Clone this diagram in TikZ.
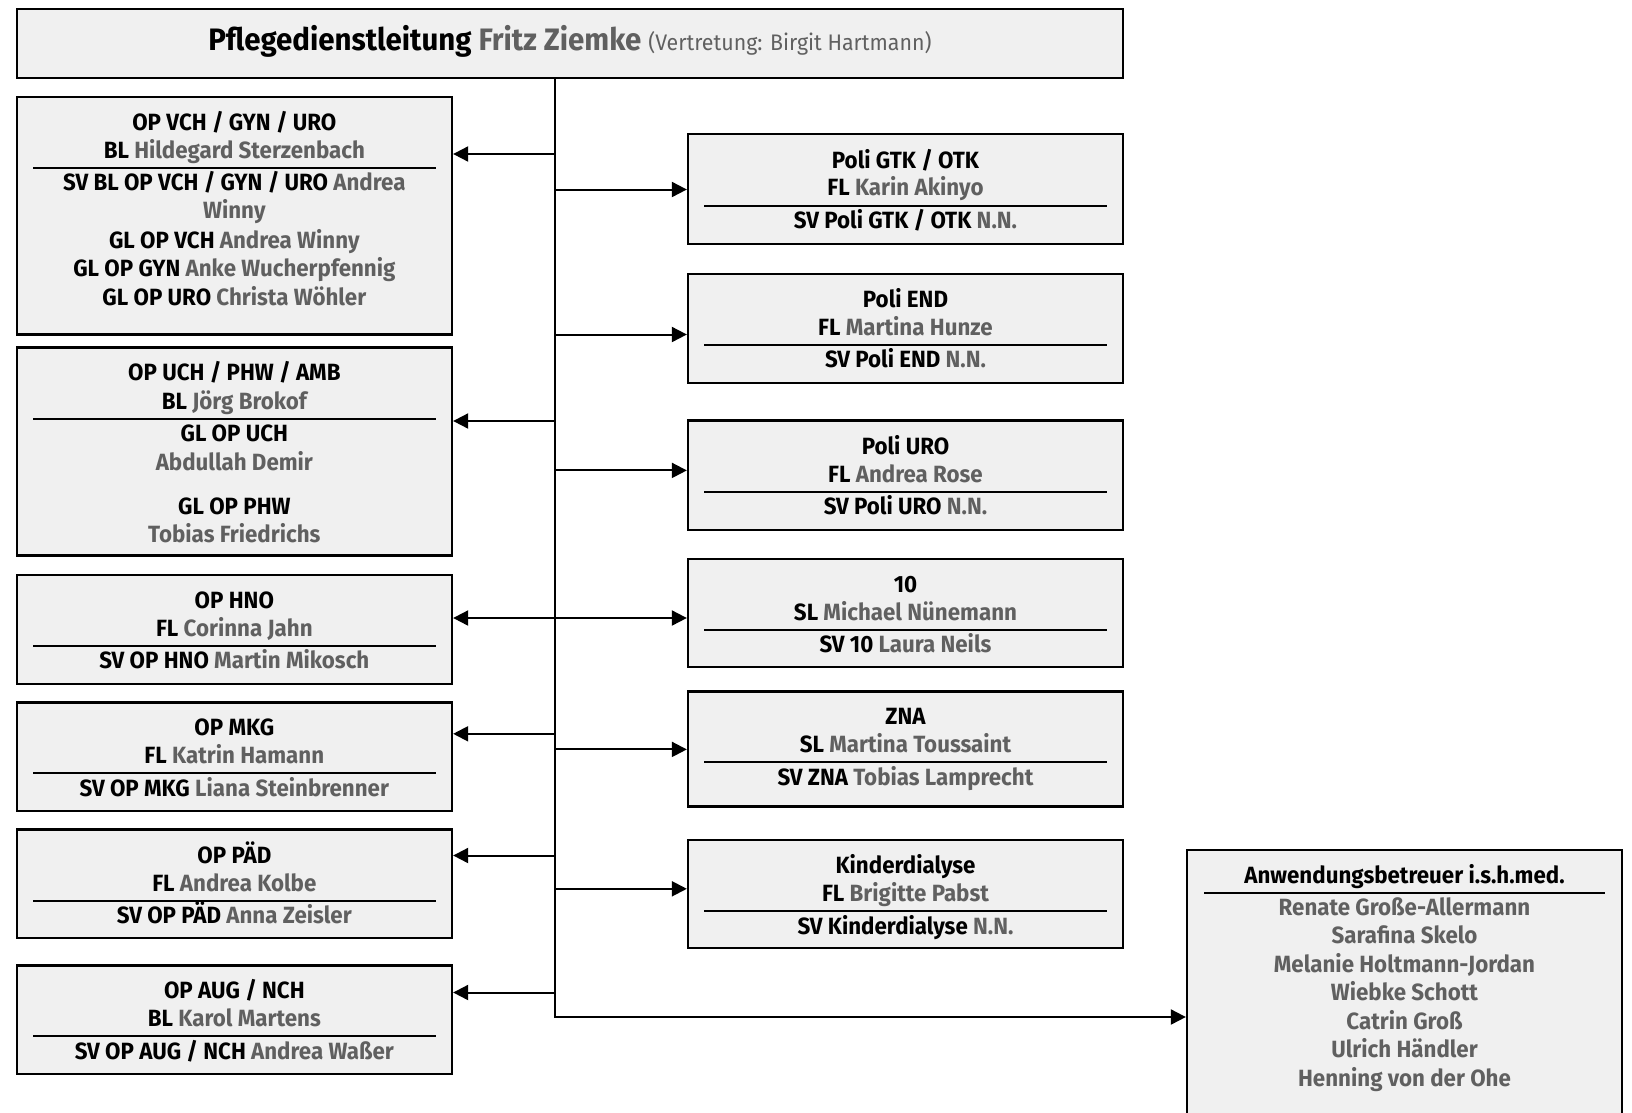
\documentclass[tikz,border=0pt]{standalone}
\usepackage{fontspec}
\setmainfont{Fira Sans}[FakeStretch=0.95]
\usetikzlibrary{arrows.meta,fit}
\definecolor{boxfill}{HTML}{F0F0F0}
\definecolor{namegray}{HTML}{606060}
\newcommand\nm[1]{\textcolor{namegray}{#1}}
\newcommand\mkbox[5]{\node[orgbox, fit={(#2,#3) (#4,#5)}] (#1) {};}
\newcommand\tl[4]{\node[txt] (#1) at (#2,#3) {#4};}
\newcommand\sep[3]{\draw[sepline] (#1,#3) -- (#2,#3);}
\tikzset{
  orgbox/.style={draw=black, fill=boxfill, line width=2.3pt, inner sep=0pt, rectangle},
  txt/.style={anchor=base, inner sep=0pt, font=\bfseries\fontsize{23.5}{28}\selectfont},
  sepline/.style={line width=2pt},
  conn/.style={line width=2pt},
  arr/.style={line width=2pt, -{Triangle[length=15pt,width=15pt]}},
  arrboth/.style={line width=2pt, {Triangle[length=15pt,width=15pt]}-{Triangle[length=15pt,width=15pt]}},
}
\begin{document}
\begin{tikzpicture}[x=1pt,y=-1pt]
\useasboundingbox (0,0) rectangle (1632,1112);
\clip (0,0) rectangle (1632,1112);
% boxes
\mkbox{top}{16.7}{9}{1123}{78}
\mkbox{vch}{16.7}{96.8}{452}{334.5}
\mkbox{uch}{16.7}{347.5}{452}{555.5}
\mkbox{hno}{16.7}{575}{452}{684}
\mkbox{mkg}{16.7}{702.5}{452}{810.8}
\mkbox{paed}{16.7}{829.5}{452}{937.8}
\mkbox{aug}{16.7}{965.5}{452}{1074}
\mkbox{gtk}{688}{134}{1123}{243.8}
\mkbox{pend}{688}{274}{1123}{383}
\mkbox{puro}{688}{420.5}{1123}{529.8}
\mkbox{zehn}{688}{559}{1123}{667}
\mkbox{zna}{688}{691.5}{1123}{806.6}
\mkbox{kind}{688}{840}{1123}{948}
\mkbox{anw}{1187}{850}{1622}{1140}
% title
\node[anchor=base, inner sep=0pt] (title) at (570,50) {\bfseries\fontsize{31}{35}\selectfont Pflegedienstleitung \nm{Fritz Ziemke} {\mdseries\fontsize{22.5}{26}\selectfont\nm{(Vertretung: Birgit Hartmann)}}};
% left boxes
\tl{vch1}{234.35}{130}{OP VCH / GYN / URO}
\tl{vch2}{234.35}{158.3}{BL \nm{Hildegard Sterzenbach}}
\sep{33}{436}{167.5}
\tl{vch3}{234.35}{190.7}{SV BL OP VCH / GYN / URO \nm{Andrea}}
\tl{vch4}{234.35}{218.5}{\nm{Winny}}
\tl{vch5}{234.35}{248}{GL OP VCH \nm{Andrea Winny}}
\tl{vch6}{234.35}{276.3}{GL OP GYN \nm{Anke Wucherpfennig}}
\tl{vch7}{234.35}{305}{GL OP URO \nm{Christa Wöhler}}
\tl{uch1}{234.35}{380.5}{OP UCH / PHW / AMB}
\tl{uch2}{234.35}{409.2}{BL \nm{Jörg Brokof}}
\sep{33}{436}{419}
\tl{uch3}{234.35}{441.2}{GL OP UCH}
\tl{uch4}{234.35}{470.2}{\nm{Abdullah Demir}}
\tl{uch5}{234.35}{514.3}{GL OP PHW}
\tl{uch6}{234.35}{542.5}{\nm{Tobias Friedrichs}}
\tl{hno1}{234.35}{608}{OP HNO}
\tl{hno2}{234.35}{636}{FL \nm{Corinna Jahn}}
\sep{33}{436}{645.5}
\tl{hno3}{234.35}{668}{SV OP HNO \nm{Martin Mikosch}}
\tl{mkg1}{234.35}{735.5}{OP MKG}
\tl{mkg2}{234.35}{763.5}{FL \nm{Katrin Hamann}}
\sep{33}{436}{773.3}
\tl{mkg3}{234.35}{796}{SV OP MKG \nm{Liana Steinbrenner}}
\tl{paed1}{234.35}{863}{OP PÄD}
\tl{paed2}{234.35}{891}{FL \nm{Andrea Kolbe}}
\sep{33}{436}{900.5}
\tl{paed3}{234.35}{923.5}{SV OP PÄD \nm{Anna Zeisler}}
\tl{aug1}{234.35}{998}{OP AUG / NCH}
\tl{aug2}{234.35}{1026.5}{BL \nm{Karol Martens}}
\sep{33}{436}{1036}
\tl{aug3}{234.35}{1059}{SV OP AUG / NCH \nm{Andrea Waßer}}
% right boxes
\tl{gtk1}{905.5}{168}{Poli GTK / OTK}
\tl{gtk2}{905.5}{195.5}{FL \nm{Karin Akinyo}}
\sep{704}{1107}{205.5}
\tl{gtk3}{905.5}{228.5}{SV Poli GTK / OTK \nm{N.N.}}
\tl{end1}{905.5}{307}{Poli END}
\tl{end2}{905.5}{335.5}{FL \nm{Martina Hunze}}
\sep{704}{1107}{344.7}
\tl{end3}{905.5}{367.5}{SV Poli END \nm{N.N.}}
\tl{uro1}{905.5}{454}{Poli URO}
\tl{uro2}{905.5}{482}{FL \nm{Andrea Rose}}
\sep{704}{1107}{491.5}
\tl{uro3}{905.5}{514.5}{SV Poli URO \nm{N.N.}}
\tl{zehn1}{905.5}{592}{10}
\tl{zehn2}{905.5}{620}{SL \nm{Michael Nünemann}}
\sep{704}{1107}{629.5}
\tl{zehn3}{905.5}{652.5}{SV 10 \nm{Laura Neils}}
\tl{zna1}{905.5}{724.5}{ZNA}
\tl{zna2}{905.5}{752.5}{SL \nm{Martina Toussaint}}
\sep{704}{1107}{762}
\tl{zna3}{905.5}{785}{SV ZNA \nm{Tobias Lamprecht}}
\tl{kind1}{905.5}{873}{Kinderdialyse}
\tl{kind2}{905.5}{901.5}{FL \nm{Brigitte Pabst}}
\sep{704}{1107}{911}
\tl{kind3}{905.5}{934}{SV Kinderdialyse \nm{N.N.}}
% Anwendungsbetreuer
\tl{anw0}{1404.5}{883}{Anwendungsbetreuer i.s.h.med.}
\sep{1204}{1605}{892.5}
\tl{anw1}{1404.5}{915}{\nm{Renate Große-Allermann}}
\tl{anw2}{1404.5}{943.5}{\nm{Sarafina Skelo}}
\tl{anw3}{1404.5}{972}{\nm{Melanie Holtmann-Jordan}}
\tl{anw4}{1404.5}{1000.5}{\nm{Wiebke Schott}}
\tl{anw5}{1404.5}{1029}{\nm{Catrin Groß}}
\tl{anw6}{1404.5}{1057.5}{\nm{Ulrich Händler}}
\tl{anw7}{1404.5}{1086}{\nm{Henning von der Ohe}}
% trunk and connectors
\coordinate (tr0) at (top.south -| 554.5,0);
\coordinate (trend) at (554.5,1017);
\coordinate (tvch) at (554.5,154);
\coordinate (tuch) at (554.5,421);
\coordinate (thno) at (554.5,618);
\coordinate (tmkg) at (554.5,733.8);
\coordinate (tpaed) at (554.5,855.5);
\coordinate (taug) at (554.5,992.5);
\coordinate (tgtk) at (554.5,189.5);
\coordinate (tend) at (554.5,334.5);
\coordinate (turo) at (554.5,470.4);
\coordinate (tzna) at (554.5,749.4);
\coordinate (tkind) at (554.5,888.8);
\draw[arr] (tr0) -- (trend) -- (trend -| anw.west);
\draw[arr] (tvch) -- (tvch -| vch.east);
\draw[arr] (tuch) -- (tuch -| uch.east);
\draw[arrboth] (thno -| hno.east) -- (thno -| zehn.west);
\draw[arr] (tmkg) -- (tmkg -| mkg.east);
\draw[arr] (tpaed) -- (tpaed -| paed.east);
\draw[arr] (taug) -- (taug -| aug.east);
\draw[arr] (tgtk) -- (tgtk -| gtk.west);
\draw[arr] (tend) -- (tend -| pend.west);
\draw[arr] (turo) -- (turo -| puro.west);
\draw[arr] (tzna) -- (tzna -| zna.west);
\draw[arr] (tkind) -- (tkind -| kind.west);
\end{tikzpicture}
\end{document}
